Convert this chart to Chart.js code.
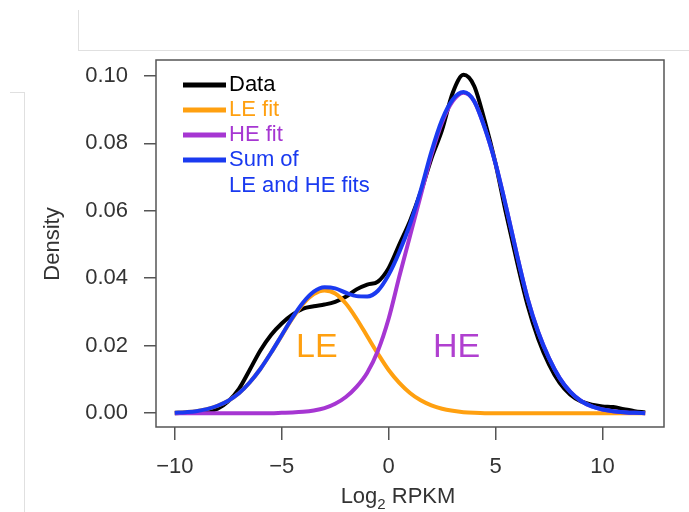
<!DOCTYPE html>
<html>
<head>
<meta charset="utf-8">
<script src="https://cdn.jsdelivr.net/npm/chart.js@4.4.1/dist/chart.umd.min.js"></script>
<style>
html,body{margin:0;padding:0;background:#fff;}
#wrap{position:relative;width:689px;height:512px;overflow:hidden;}
canvas{position:absolute;left:0;top:0;}
.edge{position:absolute;background:#e0e0e0;}
</style>
</head>
<body>
<div id="wrap">
  <div class="edge" style="left:78px;top:10px;width:1px;height:40px"></div>
  <div class="edge" style="left:78px;top:50px;width:611px;height:1px"></div>
  <div class="edge" style="left:10px;top:92px;width:14px;height:1px"></div>
  <div class="edge" style="left:24px;top:92px;width:1px;height:420px"></div>
  <canvas id="c" width="689" height="512"></canvas>
</div>
<script>
// x positions (log2 RPKM)
const xVals = [-10,-9.5,-9,-8.5,-8,-7.5,-7,-6.5,-6,-5.5,-5,-4.5,-4,-3.5,-3,-2.5,-2,-1.5,-1,-0.5,
  0,0.5,1,1.5,2,2.5,3,3.5,4,4.5,5,5.5,6,6.5,7,7.5,8,8.5,9,9.5,10,10.5,11,11.5,12];

// density curves
const dataDensity = [0,0.0001,0.0002,0.0005,0.0013,0.0035,0.0072,0.0128,0.0186,0.0232,0.0266,0.0292,0.0310,0.0317,0.0322,0.0330,0.0345,0.0367,0.0381,0.0390,
  0.0430,0.0500,0.0570,0.0655,0.0755,0.0840,0.0950,0.1003,0.0970,0.0865,0.0740,0.0590,0.0450,0.0320,0.0220,0.0145,0.0090,0.0055,0.0035,0.0025,0.0020,0.0018,0.0012,0.0006,0.0002];
const leFit = [0.0001,0.0003,0.0006,0.0012,0.0022,0.0037,0.0059,0.0091,0.0131,0.0179,0.0230,0.0281,0.0324,0.0353,0.0364,0.0355,0.0325,0.0280,0.0228,0.0176,
  0.0128,0.0090,0.0060,0.0038,0.0023,0.0013,0.0007,0.0003,0.0001,0,0,0,0,0,0,0,0,0,0,0,0,0,0,0,0];
const heFit = [0,0,0,0,0,0,0,0,0,0,0.0001,0.0002,0.0004,0.0008,0.0015,0.0028,0.0048,0.0078,0.0120,0.0185,
  0.0280,0.0405,0.0525,0.0645,0.0765,0.0862,0.0925,0.0950,0.0925,0.0845,0.0740,0.0610,0.0470,0.0340,0.0240,0.0163,0.0104,0.0063,0.0036,0.0020,0.0011,0.0006,0.0003,0.0001,0];
const sumFit = [0.0001,0.0003,0.0006,0.0012,0.0022,0.0037,0.0059,0.0091,0.0131,0.0179,0.0231,0.0283,0.0328,0.0360,0.0373,0.0370,0.0357,0.0347,0.0346,0.0363,
  0.0410,0.0478,0.0560,0.0660,0.0775,0.0870,0.0930,0.0952,0.0925,0.0845,0.0740,0.0610,0.0470,0.0340,0.0240,0.0163,0.0104,0.0063,0.0036,0.0020,0.0011,0.0006,0.0003,0.0001,0];

const xTicks = [-10,-5,0,5,10];
const yTicks = [0,0.02,0.04,0.06,0.08,0.10];
const legendText = [['Data'],['LE fit'],['HE fit'],['Sum of','LE and HE fits']];
const seriesColors = ['#000000','#ffa010','#a636d2','#1a3af0'];
const regionLabels = ['LE','HE'];
const regionX = [-3.36, 3.18];
const regionY = 0.0193;
const regionColors = ['#ffa010','#b040d0'];

const FONT = '"Liberation Sans", Arial, Helvetica, sans-serif';
Chart.defaults.font.family = FONT;

function series(vals, color, ord) {
  return {
    data: xVals.map((x,i)=>({x:x, y:vals[i]})),
    borderColor: color, borderWidth: 4, pointRadius: 0,
    cubicInterpolationMode: 'monotone', fill: false, order: ord
  };
}

// box, legend, region labels and axis titles
const overlay = {
  id: 'overlay',
  afterDraw(chart) {
    const ctx = chart.ctx, a = chart.chartArea;
    const xs = chart.scales.x, ys = chart.scales.y;
    ctx.save();
    ctx.strokeStyle = '#555'; ctx.lineWidth = 1.5;
    ctx.strokeRect(a.left, a.top, a.right-a.left, a.bottom-a.top);

    // legend
    ctx.font = '22px ' + FONT;
    ctx.textBaseline = 'middle'; ctx.textAlign = 'left';
    let ly = 85;
    legendText.forEach((lines,i)=>{
      ctx.strokeStyle = seriesColors[i]; ctx.lineWidth = 5;
      ctx.beginPath(); ctx.moveTo(183, ly); ctx.lineTo(226, ly); ctx.stroke();
      ctx.fillStyle = seriesColors[i];
      lines.forEach((t,j)=>{ ctx.fillText(t, 229, ly + j*26); });
      ly += 25 + (lines.length-1)*26;
    });

    // LE / HE
    ctx.font = '34px ' + FONT; ctx.textAlign = 'center';
    regionLabels.forEach((t,i)=>{
      ctx.fillStyle = regionColors[i];
      ctx.fillText(t, xs.getPixelForValue(regionX[i]), ys.getPixelForValue(regionY));
    });

    // axis titles
    ctx.fillStyle = '#333';
    ctx.font = '22px ' + FONT;
    ctx.textBaseline = 'alphabetic'; ctx.textAlign = 'left';
    const w1 = ctx.measureText('Log').width, w3 = ctx.measureText(' RPKM').width;
    ctx.font = '15px ' + FONT;
    const w2 = ctx.measureText('2').width;
    let tx = 398 - (w1+w2+w3)/2, by = 503;
    ctx.font = '22px ' + FONT; ctx.fillText('Log', tx, by);
    ctx.font = '15px ' + FONT; ctx.fillText('2', tx+w1, by+6);
    ctx.font = '22px ' + FONT; ctx.fillText(' RPKM', tx+w1+w2, by);

    ctx.translate(53, 244); ctx.rotate(-Math.PI/2);
    ctx.textAlign = 'center'; ctx.textBaseline = 'middle';
    ctx.fillText('Density', 0, 0);
    ctx.restore();
  }
};

new Chart(document.getElementById('c'), {
  type: 'line',
  data: { datasets: [
    series(dataDensity, seriesColors[0], 4),
    series(leFit, seriesColors[1], 3),
    series(heFit, seriesColors[2], 2),
    series(sumFit, seriesColors[3], 1)
  ]},
  options: {
    responsive: false, devicePixelRatio: 1, animation: false,
    layout: { padding: { top: 60, right: 25, left: 0, bottom: 0 } },
    plugins: { legend: { display: false }, tooltip: { enabled: false } },
    scales: {
      x: {
        type: 'linear', min: -10.88, max: 12.88,
        afterBuildTicks: s => { s.ticks = xTicks.map(v=>({value:v})); },
        afterFit: s => { s.height = 85; },
        grid: { drawOnChartArea: false, tickLength: 13, color: '#555', lineWidth: 1.5 },
        border: { display: false },
        ticks: { font: { size: 22 }, color: '#333', padding: 14, maxRotation: 0,
          callback: v => v < 0 ? '\u2212' + Math.abs(v) : String(v) }
      },
      y: {
        type: 'linear', min: -0.0041, max: 0.1047,
        afterBuildTicks: s => { s.ticks = yTicks.map(v=>({value:v})); },
        afterFit: s => { s.width = 156; },
        grid: { drawOnChartArea: false, tickLength: 12, color: '#555', lineWidth: 1.5 },
        border: { display: false },
        ticks: { font: { size: 22 }, color: '#333', padding: 16,
          callback: v => v.toFixed(2) }
      }
    }
  },
  plugins: [overlay]
});
</script>
</body>
</html>
